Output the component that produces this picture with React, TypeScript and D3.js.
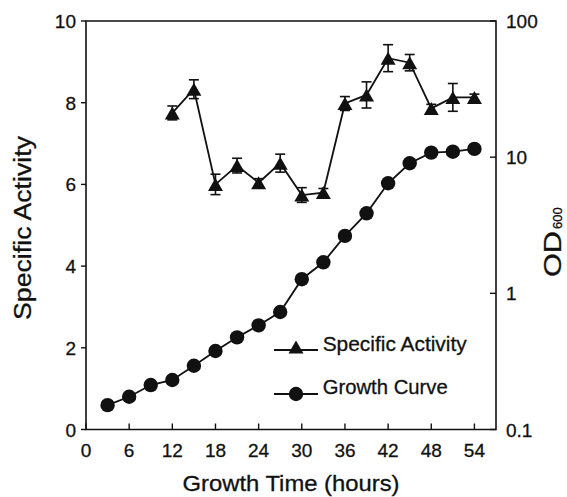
import React from "react";
import * as d3 from "d3";

// Growth-phase sampling times (hours)
const activityHours = [12, 15, 18, 21, 24, 27, 30, 33, 36, 39, 42, 45, 48, 51, 54];
const activityValues = [7.75, 8.33, 6.0, 6.46, 6.04, 6.52, 5.74, 5.8, 7.98, 8.19, 9.09, 8.98, 7.86, 8.13, 8.13];
const activityErrors = [0.17, 0.23, 0.25, 0.18, 0.1, 0.22, 0.18, 0.1, 0.17, 0.32, 0.33, 0.2, 0.1, 0.34, 0.08];

const growthHours = [3, 6, 9, 12, 15, 18, 21, 24, 27, 30, 33, 36, 39, 42, 45, 48, 51, 54];
const growthOD = [0.151, 0.174, 0.212, 0.231, 0.294, 0.377, 0.475, 0.582, 0.729, 1.27, 1.69, 2.64, 3.87, 6.43, 9.02, 10.8, 10.97, 11.5];

const xTicks = [0, 6, 12, 18, 24, 30, 36, 42, 48, 54];
const leftTicks = [0, 2, 4, 6, 8, 10];
const rightTicks = [0.1, 1, 10, 100];
const rightTickLabels = ["0.1", "1", "10", "100"];

const W = 567;
const H = 497;
const M = { left: 86, right: 71, top: 21, bottom: 67.5 };
const FONT = "'Liberation Sans', Arial, Helvetica, sans-serif";
const INK = "#111";

export default function App() {
  const x = d3.scaleLinear().domain([0, 57]).range([M.left, W - M.right]);
  const yLeft = d3.scaleLinear().domain([0, 10]).range([H - M.bottom, M.top]);
  const yRight = d3.scaleLog().domain([0.1, 100]).range([H - M.bottom, M.top]);

  const activityPts: [number, number][] = activityHours.map((h, i) => [x(h), yLeft(activityValues[i])]);
  const growthPts: [number, number][] = growthHours.map((h, i) => [x(h), yRight(growthOD[i])]);
  const line = d3.line();

  const triSide = 15;
  const triH = 13;
  const tri = (cx: number, cy: number) =>
    `M${cx},${cy - triH / 2}L${cx + triSide / 2},${cy + triH / 2}L${cx - triSide / 2},${cy + triH / 2}Z`;
  const circR = 7.2;
  const capW = 10;

  const x0 = M.left;
  const x1 = W - M.right;
  const y0 = H - M.bottom;
  const y1 = M.top;

  const legendX0 = 274;
  const legendX1 = 318;
  const legendMid = (legendX0 + legendX1) / 2;
  const legendY1 = 350;
  const legendY2 = 394;

  const textStyle = { fill: INK, stroke: INK, strokeWidth: 0.3 };

  return (
    <svg
      width={W}
      height={H}
      style={{ position: "absolute", left: 0, top: 0, background: "#fff" }}
      fontFamily={FONT}
    >
      <rect x={0} y={0} width={W} height={H} fill="#fff" />

      {/* frame */}
      <path d={`M${x0},${y1}H${x1}V${y0}H${x0}Z`} fill="none" stroke={INK} strokeWidth={1.6} />

      {/* left axis ticks */}
      {leftTicks.map((t) => (
        <g key={`l${t}`}>
          <line x1={x0 - 5} x2={x0} y1={yLeft(t)} y2={yLeft(t)} stroke={INK} strokeWidth={1.4} />
          <text x={x0 - 10} y={yLeft(t) + 7} textAnchor="end" fontSize={19} {...textStyle}>
            {t}
          </text>
        </g>
      ))}

      {/* bottom axis ticks */}
      {xTicks.map((t) => (
        <g key={`x${t}`}>
          <line x1={x(t)} x2={x(t)} y1={y0} y2={y0 - 6} stroke={INK} strokeWidth={1.4} />
          <text x={x(t)} y={y0 + 27} textAnchor="middle" fontSize={19} {...textStyle}>
            {t}
          </text>
        </g>
      ))}

      {/* right axis ticks (log) */}
      {rightTicks.map((t, i) => (
        <g key={`r${t}`}>
          <line x1={x1 - 6} x2={x1} y1={yRight(t)} y2={yRight(t)} stroke={INK} strokeWidth={1.4} />
          <text x={x1 + 10} y={yRight(t) + 7} textAnchor="start" fontSize={19} {...textStyle}>
            {rightTickLabels[i]}
          </text>
        </g>
      ))}

      {/* axis titles */}
      <text
        x={(x0 + x1) / 2}
        y={490.5}
        textAnchor="middle"
        fontSize={22}
        textLength={217}
        lengthAdjust="spacingAndGlyphs"
        {...textStyle}
      >
        Growth Time (hours)
      </text>
      <text
        transform={`translate(31,228) rotate(-90)`}
        textAnchor="middle"
        fontSize={23}
        textLength={184}
        lengthAdjust="spacingAndGlyphs"
        {...textStyle}
      >
        Specific Activity
      </text>
      <g transform={`translate(561,277) rotate(-90)`}>
        <text x={0} y={0} fontSize={23} textLength={46} lengthAdjust="spacingAndGlyphs" {...textStyle}>
          OD
        </text>
        <text x={48} y={1} fontSize={13} {...textStyle}>
          600
        </text>
      </g>

      {/* growth curve */}
      <path d={line(growthPts) ?? ""} fill="none" stroke={INK} strokeWidth={1.8} />
      {growthPts.map(([cx, cy], i) => (
        <circle key={`g${i}`} cx={cx} cy={cy} r={circR} fill={INK} />
      ))}

      {/* specific activity with error bars */}
      {activityPts.map(([cx, cy], i) => {
        const top = yLeft(activityValues[i] + activityErrors[i]);
        const bot = yLeft(activityValues[i] - activityErrors[i]);
        return (
          <g key={`e${i}`} stroke={INK} strokeWidth={1.6}>
            <line x1={cx} x2={cx} y1={top} y2={bot} />
            <line x1={cx - capW / 2} x2={cx + capW / 2} y1={top} y2={top} />
            <line x1={cx - capW / 2} x2={cx + capW / 2} y1={bot} y2={bot} />
          </g>
        );
      })}
      <path d={line(activityPts) ?? ""} fill="none" stroke={INK} strokeWidth={1.8} />
      {activityPts.map(([cx, cy], i) => (
        <path key={`a${i}`} d={tri(cx, cy)} fill={INK} />
      ))}

      {/* legend */}
      <line x1={legendX0} x2={legendX1} y1={legendY1} y2={legendY1} stroke={INK} strokeWidth={1.8} />
      <path d={tri(legendMid, legendY1 - 3)} fill={INK} />
      <text x={322.7} y={351} fontSize={21} textLength={144} lengthAdjust="spacingAndGlyphs" {...textStyle}>
        Specific Activity
      </text>
      <line x1={legendX0} x2={legendX1} y1={legendY2} y2={legendY2} stroke={INK} strokeWidth={1.8} />
      <circle cx={legendMid} cy={legendY2} r={circR} fill={INK} />
      <text x={322.7} y={393.5} fontSize={21} textLength={125} lengthAdjust="spacingAndGlyphs" {...textStyle}>
        Growth Curve
      </text>
    </svg>
  );
}
